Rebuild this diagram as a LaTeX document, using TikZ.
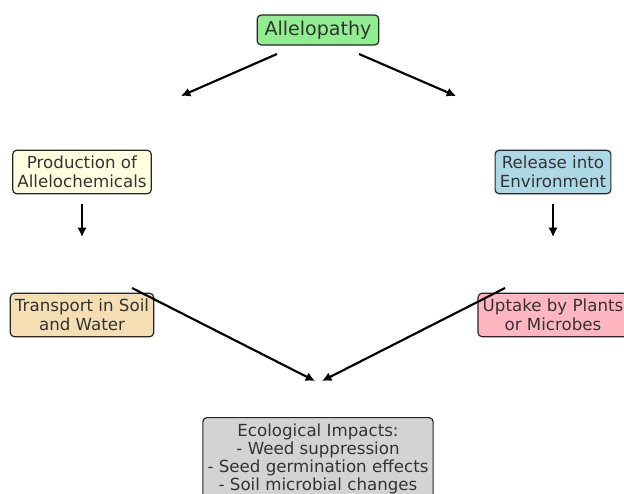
\documentclass[tikz,border=0pt]{standalone}
\usepackage{fontspec}
\setmainfont{DejaVu Sans}
\usetikzlibrary{arrows.meta}
\definecolor{boxgreen}{HTML}{90EE90}
\definecolor{boxyellow}{HTML}{FFFFE0}
\definecolor{boxblue}{HTML}{ADD8E6}
\definecolor{boxwheat}{HTML}{F5DEB3}
\definecolor{boxpink}{HTML}{FFB6C1}
\definecolor{boxgray}{HTML}{D3D3D3}
\definecolor{txt}{HTML}{333333}
\tikzset{
  box/.style={draw=black!85, line width=0.9pt, rounded corners=3pt, align=center,
    text=txt, font=\fontsize{12.5}{14.3}\selectfont, inner xsep=3.5pt, inner ysep=4.3pt},
  conn/.style={line width=1.6pt, -{Latex[length=7pt,width=7pt]}}
}
\begin{document}
\begin{tikzpicture}[x=0.75pt,y=-0.75pt]
\useasboundingbox (0,0) rectangle (624,493);
\clip (0,0) rectangle (624,493);
\node[box, fill=boxgreen, font=\fontsize{14.3}{16}\selectfont, inner xsep=5.5pt, inner ysep=4.3pt] (top) at (318,30) {Allelopathy};
\node[box, fill=boxyellow] (prod) at (82,172) {Production of\\Allelochemicals};
\node[box, fill=boxblue] (rel) at (553,172) {Release into\\Environment};
\node[box, fill=boxwheat] (trans) at (82,315) {Transport in Soil\\and Water};
\node[box, fill=boxpink] (upt) at (553,315) {Uptake by Plants\\or Microbes};
\node[box, fill=boxgray, anchor=north, font=\fontsize{12.5}{13.6}\selectfont] (eco) at (318,417) {Ecological Impacts:\\- Weed suppression\\- Seed germination effects\\- Soil microbial changes};
\coordinate (a1s) at (277,54); \coordinate (a1e) at (181,96);
\coordinate (a2s) at (359,54); \coordinate (a2e) at (456,96);
\coordinate (a3s) at (82,204); \coordinate (a3e) at (82,237);
\coordinate (a4s) at (553,204); \coordinate (a4e) at (553,237);
\coordinate (a5s) at (132,288); \coordinate (a5e) at (315,381);
\coordinate (a6s) at (505,288); \coordinate (a6e) at (322,381);
\draw[conn] (a1s) -- (a1e);
\draw[conn] (a2s) -- (a2e);
\draw[conn] (a3s) -- (a3e);
\draw[conn] (a4s) -- (a4e);
\draw[conn] (a5s) -- (a5e);
\draw[conn] (a6s) -- (a6e);
\end{tikzpicture}
\end{document}
